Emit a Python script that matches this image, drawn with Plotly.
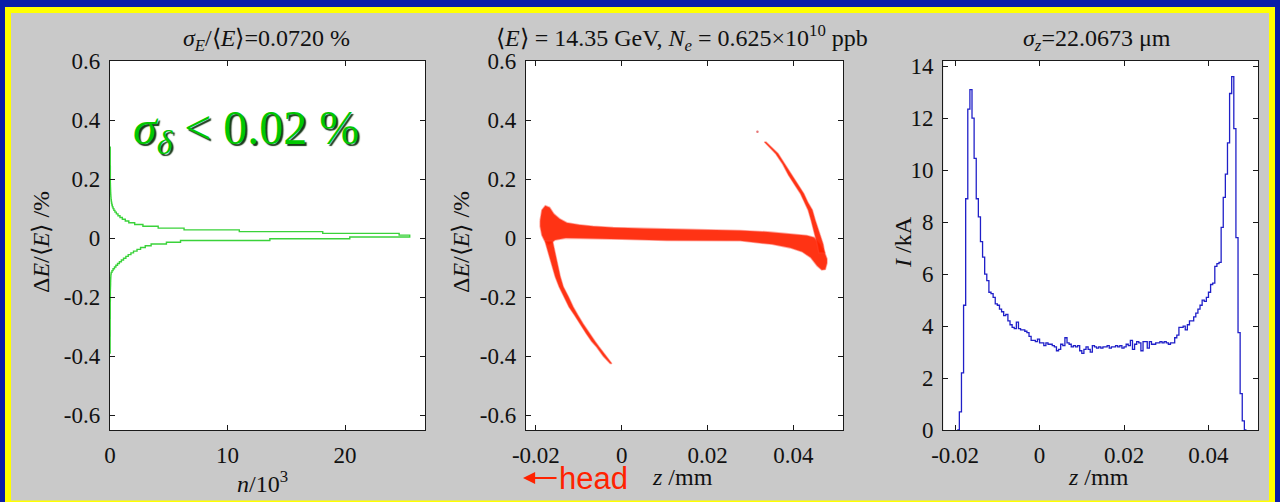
import numpy as np
import plotly.graph_objects as go

W, H = 1280, 502

# ---------------- energy spectrum (left panel) ----------------
# uniform bins in dE/<E> [%], lowest bin starts at DE_FIRST
DE_FIRST = -0.392
DE_WIDTH = 0.006
n_per_bin = [
    0.01, 0.01, 0.01, 0.01, 0.01, 0.01, 0.01, 0.01, 0.01, 0.01,
    0.015, 0.015, 0.015, 0.015, 0.015, 0.015, 0.015, 0.015, 0.015, 0.015,
    0.02, 0.02, 0.02, 0.02, 0.02, 0.02, 0.02, 0.02, 0.02, 0.02,
    0.03, 0.03, 0.03, 0.03, 0.03, 0.03, 0.035, 0.04, 0.045, 0.05,
    0.05, 0.055, 0.06, 0.07, 0.08, 0.10, 0.17, 0.26, 0.38, 0.50,
    0.64, 0.80, 0.97, 1.15, 1.35, 1.55, 1.78, 2.0, 2.3, 2.6,
    3.0, 3.5, 4.8, 6.0, 13.6, 20.4, 25.5, 24.6, 18.1, 11.0,
    6.3, 4.1, 2.8, 2.1, 1.6, 1.3, 1.05, 0.85, 0.68, 0.54,
    0.42, 0.33, 0.26, 0.20, 0.16, 0.13, 0.11, 0.09, 0.08, 0.07,
    0.06, 0.055, 0.05, 0.045, 0.04, 0.035, 0.03, 0.03, 0.03, 0.03,
    0.03, 0.03, 0.03, 0.03, 0.03, 0.03, 0.02, 0.02, 0.02, 0.02,
    0.02, 0.02, 0.02, 0.02, 0.02, 0.02, 0.02,
]

# ---------------- longitudinal phase space (middle panel) ----------------
# core band: upper edge (head -> tail) and lower edge (tail -> head)
core_top_z = [-0.0190, -0.0186, -0.0178, -0.0168, -0.0158, -0.0145, -0.0128, -0.0100,
              -0.0067, -0.0020, 0.0050, 0.0105, 0.0180, 0.0276, 0.0340, 0.0377,
              0.0410, 0.0431, 0.0448, 0.0462, 0.0472, 0.0478]
core_top_d = [0.060, 0.095, 0.110, 0.104, 0.082, 0.066, 0.052, 0.045,
              0.040, 0.036, 0.033, 0.031, 0.028, 0.026, 0.021, 0.017,
              0.013, 0.009, 0.002, -0.022, -0.047, -0.070]
core_bot_z = [0.0478, 0.0474, 0.0466, 0.0455, 0.0440, 0.0420, 0.0392, 0.0350, 0.0276,
              0.0180, 0.0105, 0.0000, -0.0080, -0.0130, -0.0155, -0.0170, -0.0180,
              -0.0186, -0.0190]
core_bot_d = [-0.085, -0.106, -0.108, -0.094, -0.066, -0.046, -0.033, -0.021, -0.009,
              -0.009, -0.008, -0.004, -0.001, 0.000, -0.006, -0.022, -0.008,
              0.010, 0.040]

# head arm (going down from the head of the bunch)
head_d = [-0.010, -0.040, -0.063, -0.100, -0.131, -0.165, -0.199, -0.233,
          -0.261, -0.290, -0.323, -0.350, -0.368, -0.400, -0.425]
head_z = [-0.0170, -0.0165, -0.0160, -0.0154, -0.0149, -0.0141, -0.0129, -0.0118,
          -0.0106, -0.0094, -0.0079, -0.0066, -0.0056, -0.0040, -0.0025]
head_hw = [0.0009, 0.0008, 0.0007, 0.0006, 0.0006, 0.0005, 0.0005, 0.0005,
           0.0004, 0.0004, 0.0004, 0.0004, 0.0003, 0.0003, 0.0002]

# tail arm (rising from the tail of the bunch)
tail_d = [0.326, 0.287, 0.250, 0.214, 0.180, 0.151, 0.120, 0.095,
          0.060, 0.038, 0.010, -0.020, -0.050]
tail_z = [0.0334, 0.0361, 0.0378, 0.0392, 0.0407, 0.0420, 0.0430, 0.0439,
          0.0446, 0.0450, 0.0456, 0.0462, 0.0466]
tail_hw = [0.0002, 0.0003, 0.0003, 0.0004, 0.0004, 0.0004, 0.0004, 0.0005,
           0.0005, 0.0005, 0.0006, 0.0007, 0.0007]

stray_z = [0.0316]
stray_d = [0.360]

# ---------------- current profile (right panel) ----------------
Z_FIRST = -0.0195
Z_WIDTH = 0.0005
current_kA = [
    0.0, 0.7, 2.2, 4.8, 8.9, 12.35, 13.1, 12.0, 10.45, 8.9,
    8.2, 7.25, 6.65, 6.0, 5.75, 5.3, 5.25, 5.1, 4.85, 4.8,
    4.65, 4.55, 4.4, 4.45, 4.2, 4.05, 3.95, 3.9, 4.15, 3.9,
    3.85, 3.85, 3.8, 3.75, 3.6, 3.45, 3.45, 3.4, 3.5, 3.35,
    3.35, 3.25, 3.35, 3.3, 3.3, 3.25, 3.2, 3.05, 3.1, 3.3,
    3.25, 3.55, 3.35, 3.3, 3.2, 3.25, 3.2, 3.25, 3.05, 2.95,
    3.1, 3.2, 3.1, 3.0, 3.25, 3.2, 3.15, 3.2, 3.15, 3.2,
    3.2, 3.25, 3.15, 3.2, 3.2, 3.25, 3.2, 3.25, 3.15, 3.2,
    3.3, 3.25, 3.45, 3.1, 3.3, 3.4, 3.35, 3.05, 3.4, 3.4,
    3.15, 3.4, 3.3, 3.3, 3.35, 3.35, 3.4, 3.35, 3.4, 3.35,
    3.3, 3.35, 3.35, 3.55, 3.65, 3.95, 3.95, 4.0, 3.85, 4.05,
    4.2, 4.2, 4.35, 4.5, 4.65, 4.8, 5.0, 4.95, 5.1, 5.3,
    5.6, 5.65, 6.3, 6.4, 6.45, 7.8, 8.95, 9.85, 11.05, 12.95,
    13.6, 11.6, 7.4, 3.75, 1.4, 0.35, 0.0,
]

# ---------------- colours / fonts ----------------
BLUE_FRAME = "#0a1ea8"
YELLOW = "#ffff00"
GRAY = "#c9c9c9"
GREEN = "#3ad23a"
RED = "#ff2200"
LINE_BLUE = "#2020c8"
SERIF = "Liberation Serif"
AX_COLOR = "#1a1a1a"


def fx(x):
    return x / W


def fy(y):
    return 1 - y / H


fig = go.Figure()

# left: rotated energy histogram as a stair line
n_bins = len(n_per_bin)
de_edges = DE_FIRST + DE_WIDTH * np.arange(n_bins + 1)
stair_x = list(n_per_bin[::-1]) + [n_per_bin[0]]
stair_y = list(de_edges[1:][::-1]) + [de_edges[0]]
fig.add_trace(go.Scatter(x=stair_x, y=stair_y, mode="lines", line_shape="vh",
                         line=dict(color=GREEN, width=1.4), xaxis="x", yaxis="y",
                         hoverinfo="skip"))

# middle: phase-space bands
red_fill = "rgba(255,34,0,0.92)"
red_edge = "rgba(255,70,50,0.45)"
core_z = core_top_z + core_bot_z
core_d = core_top_d + core_bot_d
fig.add_trace(go.Scatter(x=core_z + [core_z[0]], y=core_d + [core_d[0]], mode="lines",
                         fill="toself", fillcolor=red_fill,
                         line=dict(color=red_edge, width=1.6), xaxis="x2", yaxis="y2",
                         hoverinfo="skip"))
for cz, cd, hw in ((head_z, head_d, head_hw), (tail_z, tail_d, tail_hw)):
    left = [z - w for z, w in zip(cz, hw)]
    right = [z + w for z, w in zip(cz, hw)]
    xs = left + right[::-1] + [left[0]]
    ys = cd + cd[::-1] + [cd[0]]
    fig.add_trace(go.Scatter(x=xs, y=ys, mode="lines", fill="toself", fillcolor=red_fill,
                             line=dict(color=red_edge, width=1.4), xaxis="x2", yaxis="y2",
                             hoverinfo="skip"))
fig.add_trace(go.Scatter(x=stray_z, y=stray_d, mode="markers",
                         marker=dict(color="rgba(220,60,60,0.7)", size=2.5),
                         xaxis="x2", yaxis="y2", hoverinfo="skip"))

# right: current histogram
nz = len(current_kA)
z_edges = Z_FIRST + Z_WIDTH * np.arange(nz + 1)
fig.add_trace(go.Scatter(x=list(z_edges), y=list(current_kA) + [current_kA[-1]],
                         mode="lines", line_shape="hv",
                         line=dict(color=LINE_BLUE, width=1.3), xaxis="x3", yaxis="y3",
                         hoverinfo="skip"))

# ---------------- axes ----------------
panels = {
    1: (110, 425),
    2: (526, 843.3),
    3: (943.3, 1258.3),
}
ytop, ybot = 61, 430
TICKFONT = dict(family=SERIF, size=23, color="#111111")


def ax_common():
    return dict(showline=True, linecolor=AX_COLOR, linewidth=1.3, mirror="allticks",
                ticks="inside", ticklen=5, tickwidth=1.2, tickcolor=AX_COLOR,
                showgrid=False, zeroline=False, automargin=False, ticklabelstandoff=4,
                tickfont=TICKFONT)


dE_ticks = [0.6, 0.4, 0.2, 0, -0.2, -0.4, -0.6]
dE_text = ["0.6", "0.4", "0.2", "0", "-0.2", "-0.4", "-0.6"]
n_ticks = [0, 10, 20]
z_ticks = [-0.02, 0, 0.02, 0.04]
z_text = ["-0.02", "0", "0.02", "0.04"]
i_ticks = [0, 2, 4, 6, 8, 10, 12, 14]

layout_axes = {}
layout_axes["xaxis"] = dict(ax_common(), domain=[fx(panels[1][0]), fx(panels[1][1])],
                            range=[0, 26.8], tickvals=n_ticks,
                            ticktext=[str(t) for t in n_ticks], anchor="y")
layout_axes["yaxis"] = dict(ax_common(), domain=[fy(ybot), fy(ytop)], range=[-0.65, 0.6],
                            tickvals=dE_ticks, ticktext=dE_text, anchor="x")
layout_axes["xaxis2"] = dict(ax_common(), domain=[fx(panels[2][0]), fx(panels[2][1])],
                             range=[-0.0223, 0.0516], tickvals=z_ticks, ticktext=z_text,
                             anchor="y2")
layout_axes["yaxis2"] = dict(ax_common(), domain=[fy(ybot), fy(ytop)], range=[-0.65, 0.6],
                             tickvals=dE_ticks, ticktext=dE_text, anchor="x2")
layout_axes["xaxis3"] = dict(ax_common(), domain=[fx(panels[3][0]), fx(panels[3][1])],
                             range=[-0.0228, 0.0518], tickvals=z_ticks, ticktext=z_text,
                             anchor="y3")
layout_axes["yaxis3"] = dict(ax_common(), domain=[fy(ybot), fy(ytop)], range=[0, 14.2],
                             tickvals=i_ticks, ticktext=[str(t) for t in i_ticks],
                             anchor="x3")

# ---------------- frame and white plot areas ----------------
shapes = [
    dict(type="rect", xref="paper", yref="paper", x0=fx(5), x1=fx(1275), y0=fy(502),
         y1=fy(7), fillcolor=YELLOW, line=dict(width=0), layer="below"),
    dict(type="rect", xref="paper", yref="paper", x0=fx(11), x1=fx(1269), y0=fy(500.5),
         y1=fy(13), fillcolor=GRAY, line=dict(width=0), layer="below"),
]
for x0, x1 in panels.values():
    shapes.append(dict(type="rect", xref="paper", yref="paper", x0=fx(x0), x1=fx(x1),
                       y0=fy(ybot), y1=fy(ytop), fillcolor="white", line=dict(width=0),
                       layer="below"))


# ---------------- text ----------------
def txt(x, y, text, size=24, color="#111111", angle=0, family=SERIF, **kw):
    return dict(x=fx(x), y=fy(y), xref="paper", yref="paper", text=text, showarrow=False,
                xanchor="center", yanchor="middle", textangle=angle,
                font=dict(family=family, size=size, color=color, **kw))


annotations = [
    txt(266, 40, "<i>σ</i><sub><i>E</i></sub>/⟨<i>E</i>⟩=0.0720 %"),
    txt(682, 38, "⟨<i>E</i>⟩ = 14.35 GeV, <i>N</i><sub><i>e</i></sub> = 0.625×10<sup>10</sup> ppb"),
    txt(1097, 40, "<i>σ</i><sub><i>z</i></sub>=22.0673 μm"),
    txt(41, 242, "Δ<i>E</i>/⟨<i>E</i>⟩ /%", angle=-90),
    txt(461, 242, "Δ<i>E</i>/⟨<i>E</i>⟩ /%", angle=-90),
    txt(903, 242, "<i>I</i> /kA", angle=-90),
    txt(262, 482, "<i>n</i>/10<sup>3</sup>"),
    txt(682, 477, "<i>z</i> /mm"),
    txt(1098, 477, "<i>z</i> /mm"),
    txt(593, 478, "head", size=31, color=RED, family="Liberation Sans"),
    txt(246, 131, "<i>σ</i><sub><i>δ</i></sub> < 0.02 %", size=48, color="#00c800",
        shadow="2px 2px 1px #1a3a1a"),
    # arrow pointing towards the bunch head
    dict(x=fx(523), y=fy(478), xref="paper", yref="paper", ax=35, ay=0, text="",
         showarrow=True, arrowhead=2, arrowsize=1.1, arrowwidth=2.2, arrowcolor=RED),
]

fig.update_layout(
    width=W, height=H, margin=dict(l=0, r=0, t=0, b=0, autoexpand=False),
    paper_bgcolor=BLUE_FRAME, plot_bgcolor="white", showlegend=False,
    font=dict(family=SERIF, size=22, color="#111111"),
    shapes=shapes, annotations=annotations, **layout_axes,
)

fig.write_html("out.html", config=dict(displayModeBar=False))
